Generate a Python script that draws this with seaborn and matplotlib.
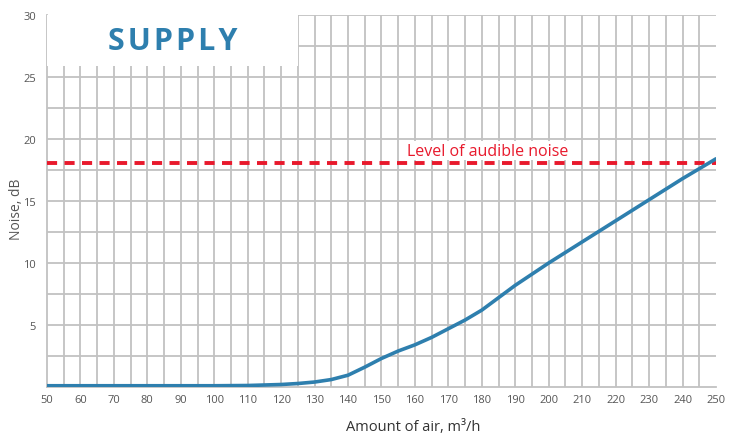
import matplotlib.pyplot as plt
import matplotlib.patches as mpatches
import pandas as pd
import seaborn as sns

# noise curve
air = [50, 60, 70, 80, 90, 100, 110, 120, 125, 130, 135, 140, 145, 150, 155, 160,
       165, 170, 175, 180, 185, 190, 195, 200, 210, 220, 230, 240, 250]
noise = [0.1, 0.1, 0.1, 0.1, 0.1, 0.1, 0.12, 0.2, 0.28, 0.4, 0.6, 0.95, 1.6, 2.3,
         2.9, 3.4, 4.0, 4.7, 5.4, 6.2, 7.2, 8.2, 9.1, 10.0, 11.7, 13.4, 15.1, 16.8, 18.4]
audible_level = 18.1
x_ticks = list(range(50, 251, 10))
y_ticks = [5, 10, 15, 20, 25, 30]

df = pd.DataFrame({'air': air, 'noise': noise})

sns.set_style('white')
plt.rcParams['font.family'] = ['Open Sans', 'DejaVu Sans']

blue = '#2e7fae'
red = '#e8192c'
grid = '#c2c2c2'

fig = plt.figure(figsize=(7.4, 4.39), dpi=100)
ax = fig.add_axes([0.0635, 0.1162, 0.904, 0.8474])

# grid every 5 m3/h and 2.5 dB
for gx in range(55, 250, 5):
    ax.axvline(gx, color=grid, lw=1.3, zorder=1)
for i in range(1, 13):
    ax.axhline(i * 2.5, color=grid, lw=1.3, zorder=1)

ax.axhline(audible_level, color=red, lw=2.8, ls=(0, (2.6, 1.9)), zorder=3)
ax.text(157.6, audible_level + 0.3, 'Level of audible noise', color=red, fontsize=11.5,
        va='bottom', ha='left', zorder=4,
        bbox=dict(facecolor='white', edgecolor='none', pad=1.2))

sns.lineplot(data=df, x='air', y='noise', ax=ax, color=blue, lw=2.6, zorder=5)

# title box
ax.add_patch(mpatches.Rectangle((50, 25.9), 75, 4.1, facecolor='white', edgecolor='none', zorder=6))
ax.text(87.5, 27.9, '\u200a'.join('SUPPLY'), color=blue, fontsize=22, fontweight='bold',
        ha='center', va='center', zorder=7, family=['Open Sans', 'DejaVu Sans'])

ax.set_xlim(50, 250)
ax.set_ylim(0, 30)
ax.set_xticks(x_ticks)
ax.set_yticks(y_ticks)
ax.tick_params(axis='x', length=0, pad=5, labelsize=8, labelcolor='#555555')
ax.tick_params(axis='y', length=5, width=1.3, color=grid, pad=3, labelsize=8, labelcolor='#555555')

for s in ['top', 'right']:
    ax.spines[s].set_visible(False)
for s in ['left', 'bottom']:
    ax.spines[s].set_color(grid)
    ax.spines[s].set_linewidth(1.3)

ax.set_xlabel('Amount of air, m\u00b3/h', fontsize=10.5, color='#333333', va='center')
ax.xaxis.set_label_coords(0.547, -0.107)
ax.set_ylabel('Noise, dB', fontsize=10, color='#555555', va='center')
ax.yaxis.set_label_coords(-0.046, 0.48)

fig.savefig('out.png', dpi=100)
